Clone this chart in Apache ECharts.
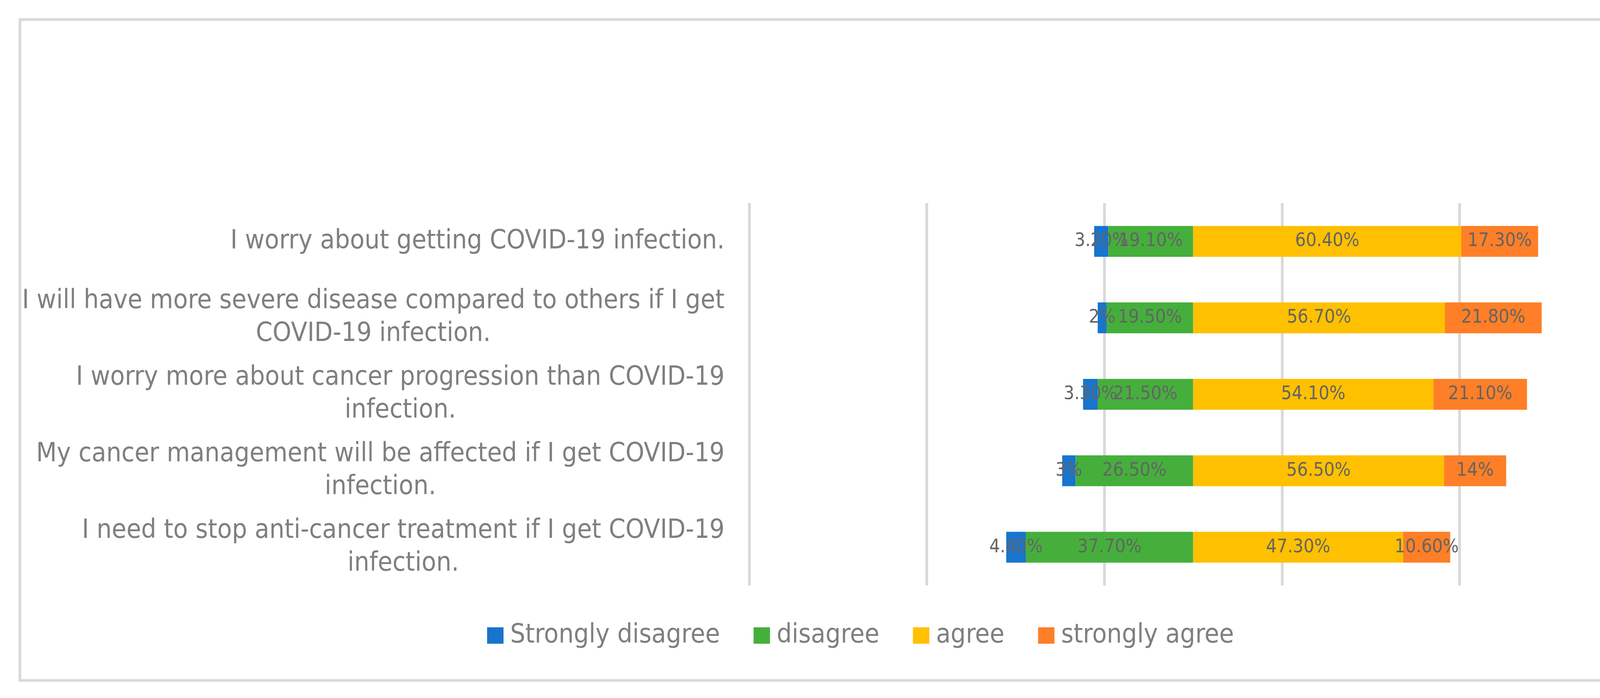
<!DOCTYPE html>
<html>
<head>
<meta charset="utf-8">
<script src="https://cdn.jsdelivr.net/npm/echarts@6/dist/echarts.min.js"></script>
<style>
  html, body { margin: 0; padding: 0; background: #fff; }
  #chart { width: 4393px; height: 1787px; }
</style>
</head>
<body>
<div id="chart"></div>
<script>
// statements, top to bottom (line breaks as in the original chart)
var statements = [
  'I worry about getting COVID-19 infection.',
  'I will have more severe disease compared to others if I get\nCOVID-19 infection.',
  'I worry more about cancer progression than COVID-19\ninfection.',
  'My cancer management will be affected if I get COVID-19\ninfection.',
  'I need to stop anti-cancer treatment if I get COVID-19\ninfection.'
]

var strongDisagree = [3.2, 2, 3.3, 3, 4.4]
var disagree = [19.1, 19.5, 21.5, 26.5, 37.7]
var agree = [60.4, 56.7, 54.1, 56.5, 47.3]
var strongAgree = [17.3, 21.8, 21.1, 14, 10.6]

var FONT = "'Liberation Sans Narrow', 'DejaVu Sans Condensed', 'Liberation Sans', sans-serif"

// invisible spacer so that disagree/agree meet in the middle of the axis (100)
var spacer = strongDisagree.map(function (v, i) {
  return 100 - v - disagree[i]
})

var pct = function (p) {
  var v = p.value
  return (Number.isInteger(v) ? v : v.toFixed(2)) + '%'
}

var segLabel = {
  show: true,
  position: 'inside',
  formatter: pct,
  color: '#646464',
  fontSize: 48,
  fontFamily: FONT
}

var myChart = echarts.init(document.getElementById('chart'))

var option = {
  animation: false,
  backgroundColor: '#fff',
  graphic: [
    {
      type: 'rect',
      shape: { x: 51, y: 50, width: 4259, height: 1692 },
      style: { fill: 'none', stroke: '#d9d9d9', lineWidth: 7 },
      silent: true
    }
  ],
  legend: {
    data: ['Strongly disagree', 'disagree', 'agree', 'strongly agree'],
    left: 1242,
    top: 1588,
    itemWidth: 42,
    itemHeight: 42,
    itemGap: 86,
    icon: 'rect',
    textStyle: {
      color: '#7f7f7f',
      fontSize: 68,
      fontFamily: FONT,
      padding: [0, 0, 0, 12]
    }
  },
  grid: {
    left: 1918,
    right: 202,
    top: 520,
    bottom: 288,
    containLabel: false
  },
  xAxis: {
    type: 'value',
    min: 0,
    max: 200,
    interval: 40,
    axisLabel: { show: false },
    axisLine: { show: false },
    axisTick: { show: false },
    splitLine: { lineStyle: { color: '#d9d9d9', width: 7 } }
  },
  yAxis: {
    type: 'category',
    inverse: true,
    data: statements,
    axisLine: { show: false },
    axisTick: { show: false },
    axisLabel: {
      margin: 63,
      align: 'right',
      formatter: function (val) {
        return val.split('\n').map(function (l) { return '{c|' + l + '}' }).join('\n')
      },
      rich: {
        c: {
          align: 'center',
          color: '#7f7f7f',
          fontSize: 68,
          lineHeight: 84,
          fontFamily: FONT
        }
      }
    }
  },
  series: [
    {
      name: 'spacer',
      type: 'bar',
      stack: 'total',
      barWidth: 79,
      silent: true,
      itemStyle: { color: 'transparent' },
      data: spacer
    },
    {
      name: 'Strongly disagree',
      type: 'bar',
      stack: 'total',
      itemStyle: { color: '#1874cd' },
      label: segLabel,
      data: strongDisagree
    },
    {
      name: 'disagree',
      type: 'bar',
      stack: 'total',
      itemStyle: { color: '#45af3c' },
      label: segLabel,
      data: disagree
    },
    {
      name: 'agree',
      type: 'bar',
      stack: 'total',
      itemStyle: { color: '#ffc000' },
      label: segLabel,
      data: agree
    },
    {
      name: 'strongly agree',
      type: 'bar',
      stack: 'total',
      itemStyle: { color: '#fe7f27' },
      label: segLabel,
      data: strongAgree
    }
  ]
}

myChart.setOption(option)
</script>
</body>
</html>
